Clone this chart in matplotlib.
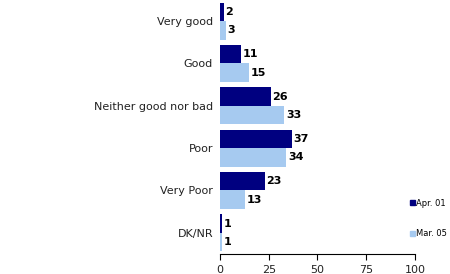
import numpy as np
import matplotlib
matplotlib.use("Agg")
import matplotlib.pyplot as plt
from matplotlib.patches import Patch

categories = ["Very good", "Good", "Neither good nor bad", "Poor", "Very Poor", "DK/NR"]
apr_01 = [2, 11, 26, 37, 23, 1]
mar_05 = [3, 15, 33, 34, 13, 1]
series_names = ["Apr. 01", "Mar. 05"]
x_ticks = [0, 25, 50, 75, 100]

DARK = "#000080"
LIGHT = "#A6CAF0"

fig = plt.figure(figsize=(4.5, 2.74), dpi=100)
ax = fig.add_axes([0.489, 0.073, 0.433, 0.927])

y = np.arange(len(categories))
h = 0.435
b1 = ax.barh(y - h / 2, apr_01, height=h, color=DARK)
b2 = ax.barh(y + h / 2, mar_05, height=h, color=LIGHT)

for bars, vals in ((b1, apr_01), (b2, mar_05)):
    for bar, v in zip(bars, vals):
        ax.text(bar.get_width() + 0.8, bar.get_y() + bar.get_height() / 2, str(v),
                va="center", ha="left", fontsize=8, fontweight="bold", color="black")

ax.set_ylim(len(categories) - 0.5, -0.5)
ax.set_xlim(0, 100)
ax.set_yticks(y)
ax.set_yticklabels(categories, fontsize=8, color="#222222")
ax.set_xticks(x_ticks)
ax.set_xticklabels([str(t) for t in x_ticks], fontsize=8, color="#222222")
ax.tick_params(axis="y", length=0, pad=5)
ax.tick_params(axis="x", direction="out", length=4, width=0.8, pad=4)
for s in ("top", "right", "left"):
    ax.spines[s].set_visible(False)
ax.spines["bottom"].set_linewidth(0.8)

handles = [Patch(color=DARK), Patch(color=LIGHT)]
fig.legend(handles, series_names, loc="upper left", bbox_to_anchor=(0.91, 0.275),
           frameon=False, fontsize=6, handlelength=0.6, handleheight=0.6,
           handletextpad=0.2, labelspacing=2.6, borderpad=0, borderaxespad=0)

fig.savefig("out.png", dpi=100)
